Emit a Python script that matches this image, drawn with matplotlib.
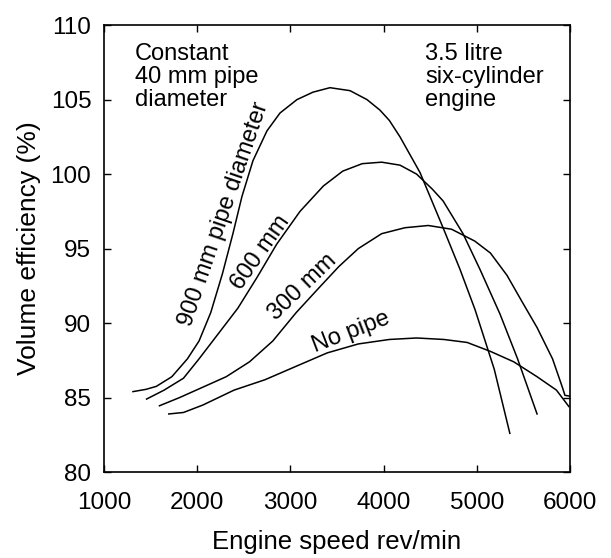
import matplotlib
matplotlib.use("Agg")
import matplotlib.pyplot as plt

# engine speed (rev/min) and volume efficiency (%)
rpm_900 = [1312, 1450, 1562, 1729, 1896, 2021, 2146, 2271, 2384, 2481, 2599, 2749,
           2889, 3071, 3243, 3425, 3640, 3822, 3960, 4062, 4176, 4391, 4638, 4820,
           4981, 5187, 5354]
eff_900 = [85.4, 85.55, 85.75, 86.4, 87.6, 88.8, 90.7, 93.3, 96.0, 98.5, 100.9, 102.9,
           104.1, 105.0, 105.5, 105.8, 105.6, 105.0, 104.3, 103.6, 102.5, 100.1, 96.4, 93.6,
           90.9, 86.9, 82.6]

rpm_600 = [1458, 1646, 1854, 2021, 2229, 2437, 2646, 2854, 3104, 3354, 3562, 3771,
           3979, 4176, 4354, 4521, 4638, 4852, 5034, 5249, 5437, 5646]
eff_600 = [84.9, 85.5, 86.3, 87.6, 89.3, 91.0, 93.1, 95.3, 97.5, 99.2, 100.2, 100.7,
           100.8, 100.6, 100.0, 99.0, 98.2, 96.0, 93.6, 90.6, 87.6, 83.9]

rpm_300 = [1596, 1812, 2062, 2312, 2562, 2812, 3062, 3312, 3521, 3729, 3979, 4229,
           4479, 4729, 4979, 5146, 5324, 5479, 5646, 5812, 5917, 5945, 5995]
eff_300 = [84.45, 85.0, 85.7, 86.4, 87.4, 88.8, 90.7, 92.4, 93.8, 95.0, 96.0, 96.4,
           96.55, 96.3, 95.5, 94.7, 93.2, 91.5, 89.7, 87.6, 85.7, 85.15, 85.1]

rpm_nopipe = [1696, 1854, 2062, 2396, 2729, 3062, 3396, 3729, 4062, 4354, 4646, 4896,
              5146, 5396, 5646, 5854, 5987]
eff_nopipe = [83.9, 84.0, 84.5, 85.5, 86.2, 87.1, 88.0, 88.6, 88.9, 89.0, 88.9, 88.7,
              88.1, 87.4, 86.4, 85.5, 84.4]

x_ticks = [1000, 2000, 3000, 4000, 5000, 6000]
y_ticks = [80, 85, 90, 95, 100, 105, 110]

plt.rcParams['font.family'] = ['Liberation Sans', 'DejaVu Sans']

fig = plt.figure(figsize=(6.11, 5.58), dpi=100)
ax = fig.add_axes([0.170, 0.154, 0.763, 0.801])

for xs, ys in [(rpm_900, eff_900), (rpm_600, eff_600),
               (rpm_300, eff_300), (rpm_nopipe, eff_nopipe)]:
    ax.plot(xs, ys, color='black', linewidth=1.1)

ax.set_xlim(1000, 6000)
ax.set_ylim(80, 110)
ax.set_xticks(x_ticks)
ax.set_yticks(y_ticks)
ax.tick_params(axis='both', direction='in', length=5, width=1.0, labelsize=17.5,
               top=True, right=True)
ax.tick_params(axis='x', pad=14)
ax.tick_params(axis='y', pad=9)
for s in ax.spines.values():
    s.set_linewidth(1.2)

ax.set_xlabel('Engine speed rev/min', fontsize=18.5, labelpad=12)
ax.set_ylabel('Volume efficiency (%)', fontsize=19, labelpad=7)

# annotations
ax.text(1333, 108.8, 'Constant\n40 mm pipe\ndiameter', fontsize=17, va='top',
        ha='left', linespacing=1.05)
ax.text(4444, 108.8, '3.5 litre\nsix-cylinder\nengine', fontsize=17, va='top',
        ha='left', linespacing=1.05)

# curve labels
ax.text(2290, 97.3, '900 mm pipe diameter', fontsize=17, rotation=71,
        ha='center', va='center', rotation_mode='anchor')
ax.text(2680, 94.7, '600 mm', fontsize=17, rotation=55,
        ha='center', va='center', rotation_mode='anchor')
ax.text(3130, 92.4, '300 mm', fontsize=17, rotation=44,
        ha='center', va='center', rotation_mode='anchor')
ax.text(3646, 89.4, 'No pipe', fontsize=17, rotation=21,
        ha='center', va='center', rotation_mode='anchor')

fig.savefig('out.png', dpi=100)
